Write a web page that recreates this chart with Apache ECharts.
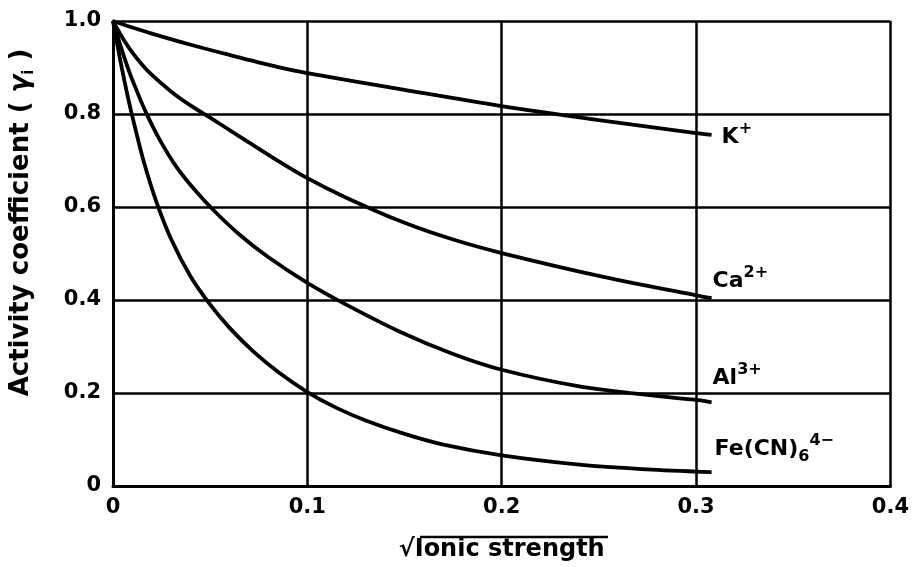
<!DOCTYPE html>
<html><head><meta charset="utf-8">
<script src="https://cdn.jsdelivr.net/npm/echarts@6/dist/echarts.min.js"></script>
<style>html,body{margin:0;padding:0;background:#fff}#c{width:912px;height:567px}</style>
</head><body><div id="c"></div>
<script>
// Tick labels
const xTickLabels = ['0', '0.1', '0.2', '0.3', '0.4'];
const yTickLabels = ['0', '0.2', '0.4', '0.6', '0.8', '1.0'];

// K+
const kX = [0, 0.01, 0.02, 0.04, 0.06, 0.085, 0.1, 0.15, 0.2, 0.25, 0.3, 0.308];
const kY = [1.0, 0.986, 0.973, 0.949, 0.927, 0.901, 0.888, 0.852, 0.817, 0.787, 0.759, 0.755];
// Ca2+
const caX = [0, 0.005, 0.01, 0.015, 0.02, 0.03, 0.04, 0.05, 0.065, 0.08, 0.1, 0.12, 0.15, 0.175, 0.2, 0.25, 0.3, 0.308];
const caY = [1.0, 0.963, 0.932, 0.906, 0.884, 0.848, 0.818, 0.792, 0.752, 0.712, 0.662, 0.620, 0.566, 0.530, 0.501, 0.452, 0.410, 0.404];
// Al3+
const alX = [0, 0.004, 0.008, 0.012, 0.017, 0.024, 0.033, 0.042, 0.052, 0.065, 0.08, 0.1, 0.12, 0.147, 0.175, 0.2, 0.24, 0.27, 0.3, 0.308];
const alY = [1.0, 0.945, 0.895, 0.852, 0.803, 0.745, 0.684, 0.637, 0.592, 0.541, 0.492, 0.437, 0.390, 0.333, 0.284, 0.250, 0.214, 0.198, 0.185, 0.180];
// Fe(CN)6 4-
const feX = [0, 0.004, 0.008, 0.012, 0.016, 0.022, 0.03, 0.04, 0.05, 0.06, 0.072, 0.085, 0.1, 0.115, 0.13, 0.15, 0.17, 0.2, 0.24, 0.27, 0.3, 0.308];
const feY = [1.0, 0.910, 0.830, 0.760, 0.695, 0.615, 0.530, 0.450, 0.390, 0.340, 0.290, 0.245, 0.202, 0.168, 0.141, 0.112, 0.089, 0.066, 0.046, 0.037, 0.031, 0.030];

const FONT = 'DejaVu Sans';
function pairs(xs, ys) { return xs.map((x, i) => [x, ys[i]]); }

const richBase = {
  n: { fontFamily: FONT, fontWeight: 'bold', fontSize: 22, color: '#000', lineHeight: 32, verticalAlign: 'middle' },
  sup: { fontFamily: FONT, fontWeight: 'bold', fontSize: 16, color: '#000', lineHeight: 32, verticalAlign: 'top' },
  sub: { fontFamily: FONT, fontWeight: 'bold', fontSize: 16, color: '#000', lineHeight: 32, verticalAlign: 'bottom' }
};

function mkSeries(name, data, text, offset) {
  return {
    name: name,
    type: 'line',
    data: data,
    smooth: 0.3,
    showSymbol: false,
    silent: true,
    lineStyle: { color: '#000', width: 3.8 },
    endLabel: {
      show: true,
      formatter: text,
      offset: offset,
      distance: 5,
      rich: richBase
    },
    z: 3
  };
}

const chart = echarts.init(document.getElementById('c'), null, { renderer: 'canvas' });
chart.setOption({
  animation: false,
  backgroundColor: '#fff',
  grid: { left: 112, top: 21, right: 16, bottom: 81, containLabel: false },
  xAxis: {
    type: 'value', min: 0, max: 0.4, interval: 0.1,
    axisLine: { show: true, lineStyle: { color: '#000', width: 3 } },
    axisTick: { show: false },
    splitLine: { show: true, lineStyle: { color: '#000', width: 2.5 } },
    axisLabel: {
      margin: 11, color: '#000', fontFamily: FONT, fontWeight: 'bold', fontSize: 21,
      formatter: (v) => xTickLabels[Math.round(v * 10)]
    },
    name: '√Ionic strength',
    nameLocation: 'middle',
    nameGap: 52,
    nameTextStyle: { color: '#000', fontFamily: FONT, fontWeight: 'bold', fontSize: 24 }
  },
  yAxis: {
    type: 'value', min: 0, max: 1, interval: 0.2,
    axisLine: { show: true, lineStyle: { color: '#000', width: 3 } },
    axisTick: { show: false },
    splitLine: { show: true, lineStyle: { color: '#000', width: 2.5 } },
    axisLabel: {
      margin: 12, color: '#000', fontFamily: FONT, fontWeight: 'bold', fontSize: 21,
      formatter: (v) => yTickLabels[Math.round(v * 5)]
    },
    name: 'Activity coefficient ( {g|γ}{s|i} )',
    nameLocation: 'middle',
    nameGap: 76,
    nameTextStyle: {
      color: '#000', fontFamily: FONT, fontWeight: 'bold', fontSize: 26,
      padding: [0, 0, 0, 62],
      rich: {
        g: { fontFamily: FONT, fontWeight: 'bold', fontStyle: 'italic', fontSize: 26, color: '#000' },
        s: { fontFamily: FONT, fontWeight: 'bold', fontSize: 15, color: '#000', verticalAlign: 'bottom', lineHeight: 32 }
      }
    }
  },
  graphic: [
    { type: 'line', shape: { x1: 420, y1: 537, x2: 608, y2: 537 }, style: { stroke: '#000', lineWidth: 2.5 }, z: 10 }
  ],
  series: [
    mkSeries('K+', pairs(kX, kY), '{n|K}{sup|+}', [5, 2]),
    mkSeries('Ca2+', pairs(caX, caY), '{n|Ca}{sup|2+}', [-4, -17]),
    mkSeries('Al3+', pairs(alX, alY), '{n|Al}{sup|3+}', [-4, -24]),
    mkSeries('Fe(CN)6 4-', pairs(feX, feY), '{n|Fe(CN)}{sub|6}{sup|4−}', [-2, -23])
  ]
});
</script>
</body></html>
